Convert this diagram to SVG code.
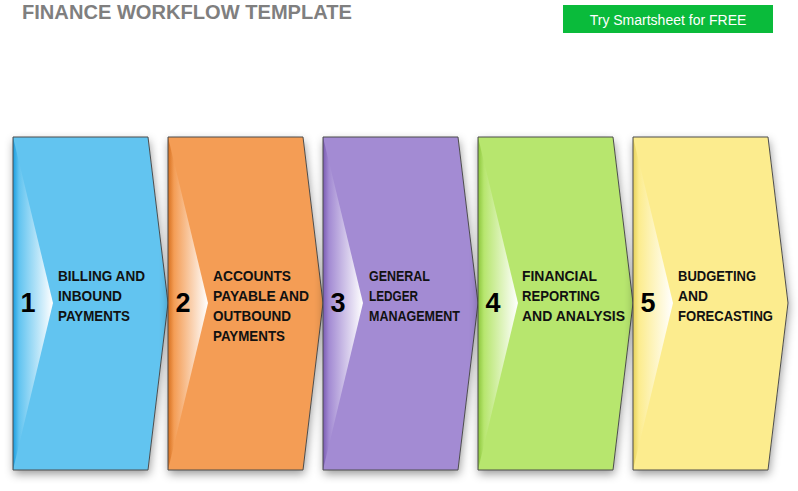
<svg xmlns="http://www.w3.org/2000/svg" width="798" height="491" viewBox="0 0 798 491">
<defs>
<style>
.sh{stroke:#4d4d4d;stroke-width:1}
.num{font-family:"Liberation Sans",Arial,sans-serif;font-weight:bold;font-size:27px;fill:#000;text-anchor:middle}
.lbl{font-family:"Liberation Sans",Arial,sans-serif;font-weight:bold;font-size:15px;fill:#111}
</style>
<filter id="shadow" x="-15%" y="-10%" width="130%" height="125%">
<feDropShadow dx="1" dy="4" stdDeviation="5" flood-color="#000" flood-opacity="0.4"/>
</filter>
<linearGradient id="g1" x1="0" y1="0" x2="1" y2="0"><stop offset="0" stop-color="#1a9ddf"/><stop offset="0.15" stop-color="#62c4f0"/><stop offset="1" stop-color="#ffffff"/></linearGradient>
<linearGradient id="g2" x1="0" y1="0" x2="1" y2="0"><stop offset="0" stop-color="#d6701f"/><stop offset="0.15" stop-color="#f49d55"/><stop offset="1" stop-color="#ffffff"/></linearGradient>
<linearGradient id="g3" x1="0" y1="0" x2="1" y2="0"><stop offset="0" stop-color="#7a5cb3"/><stop offset="0.15" stop-color="#a38bd3"/><stop offset="1" stop-color="#ffffff"/></linearGradient>
<linearGradient id="g4" x1="0" y1="0" x2="1" y2="0"><stop offset="0" stop-color="#8cc63c"/><stop offset="0.15" stop-color="#b7e66e"/><stop offset="1" stop-color="#ffffff"/></linearGradient>
<linearGradient id="g5" x1="0" y1="0" x2="1" y2="0"><stop offset="0" stop-color="#e6d15a"/><stop offset="0.15" stop-color="#fcec8e"/><stop offset="1" stop-color="#ffffff"/></linearGradient>
</defs>
<rect width="798" height="491" fill="#ffffff"/>
<text x="22" y="19" font-family="Liberation Sans,Arial,sans-serif" font-weight="bold" font-size="20" fill="#7f7f7f" textLength="330" lengthAdjust="spacingAndGlyphs">FINANCE WORKFLOW TEMPLATE</text>
<g id="button">
<rect x="563" y="5" width="210" height="28" fill="#0abb3b"/>
<text x="668" y="25" font-family="Liberation Sans,Arial,sans-serif" font-size="14" fill="#ffffff" text-anchor="middle">Try Smartsheet for FREE</text>
</g>
<g id="connectors"></g>
<g id="step1">
<polygon points="13,137 148,137 168,303 148,470 13,470" fill="#62c4f0" filter="url(#shadow)"/>
<polygon points="13,137 53,303 13,470" fill="url(#g1)"/>
<polygon class="sh" points="13,137 148,137 168,303 148,470 13,470" fill="none"/>
<text class="num" x="28" y="312">1</text>
<text class="lbl" x="58" y="281" textLength="87" lengthAdjust="spacingAndGlyphs">BILLING AND</text>
<text class="lbl" x="58" y="301" textLength="64" lengthAdjust="spacingAndGlyphs">INBOUND</text>
<text class="lbl" x="58" y="321" textLength="72" lengthAdjust="spacingAndGlyphs">PAYMENTS</text>
</g>
<g id="step2">
<polygon points="168,137 303,137 323,303 303,470 168,470" fill="#f49d55" filter="url(#shadow)"/>
<polygon points="168,137 208,303 168,470" fill="url(#g2)"/>
<polygon class="sh" points="168,137 303,137 323,303 303,470 168,470" fill="none"/>
<text class="num" x="183" y="312">2</text>
<text class="lbl" x="213" y="281" textLength="78" lengthAdjust="spacingAndGlyphs">ACCOUNTS</text>
<text class="lbl" x="213" y="301" textLength="96" lengthAdjust="spacingAndGlyphs">PAYABLE AND</text>
<text class="lbl" x="213" y="321" textLength="78" lengthAdjust="spacingAndGlyphs">OUTBOUND</text>
<text class="lbl" x="213" y="341" textLength="72" lengthAdjust="spacingAndGlyphs">PAYMENTS</text>
</g>
<g id="step3">
<polygon points="323,137 458,137 478,303 458,470 323,470" fill="#a38bd3" filter="url(#shadow)"/>
<polygon points="323,137 363,303 323,470" fill="url(#g3)"/>
<polygon class="sh" points="323,137 458,137 478,303 458,470 323,470" fill="none"/>
<text class="num" x="338" y="312">3</text>
<text class="lbl" x="369" y="281" textLength="61" lengthAdjust="spacingAndGlyphs">GENERAL</text>
<text class="lbl" x="369" y="301" textLength="49" lengthAdjust="spacingAndGlyphs">LEDGER</text>
<text class="lbl" x="369" y="321" textLength="91" lengthAdjust="spacingAndGlyphs">MANAGEMENT</text>
</g>
<g id="step4">
<polygon points="478,137 613,137 633,303 613,470 478,470" fill="#b7e66e" filter="url(#shadow)"/>
<polygon points="478,137 518,303 478,470" fill="url(#g4)"/>
<polygon class="sh" points="478,137 613,137 633,303 613,470 478,470" fill="none"/>
<text class="num" x="493" y="312">4</text>
<text class="lbl" x="522" y="281" textLength="75" lengthAdjust="spacingAndGlyphs">FINANCIAL</text>
<text class="lbl" x="522" y="301" textLength="78" lengthAdjust="spacingAndGlyphs">REPORTING</text>
<text class="lbl" x="522" y="321" textLength="103" lengthAdjust="spacingAndGlyphs">AND ANALYSIS</text>
</g>
<g id="step5">
<polygon points="633,137 768,137 788,303 768,470 633,470" fill="#fcec8e" filter="url(#shadow)"/>
<polygon points="633,137 673,303 633,470" fill="url(#g5)"/>
<polygon class="sh" points="633,137 768,137 788,303 768,470 633,470" fill="none"/>
<text class="num" x="648" y="312">5</text>
<text class="lbl" x="678" y="281" textLength="78" lengthAdjust="spacingAndGlyphs">BUDGETING</text>
<text class="lbl" x="678" y="301" textLength="30" lengthAdjust="spacingAndGlyphs">AND</text>
<text class="lbl" x="678" y="321" textLength="95" lengthAdjust="spacingAndGlyphs">FORECASTING</text>
</g>
</svg>
